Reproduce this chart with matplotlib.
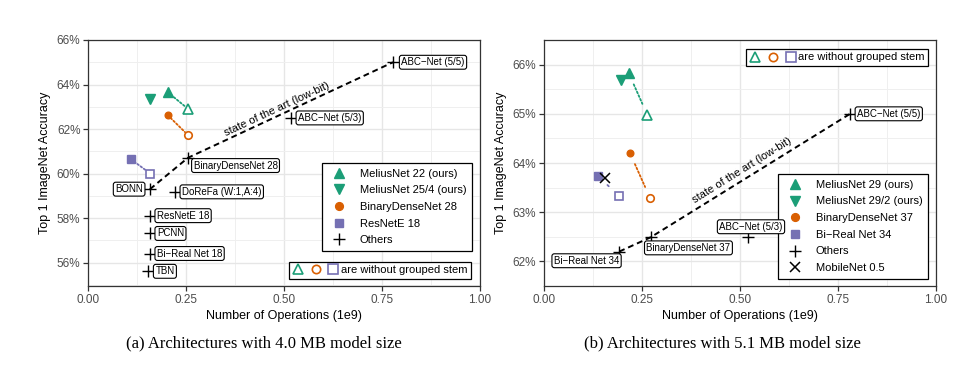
import numpy as np
import matplotlib.pyplot as plt
from matplotlib.lines import Line2D
from matplotlib.legend_handler import HandlerTuple
from matplotlib.ticker import FuncFormatter, MultipleLocator

plt.rcParams['font.family'] = ['Liberation Sans', 'DejaVu Sans']

GREEN, ORANGE, PURPLE = '#1b9e77', '#d95f02', '#7570b3'

###############################################################################
# Data, panel (a): 4.0 MB model size
# first value: with grouped stem (filled), second: without grouped stem (open)
a_labels = ['MeliusNet 22 (ours)', 'MeliusNet 25/4 (ours)', 'BinaryDenseNet 28', 'ResNetE 18']
a_ops = [[0.203, 0.255], [0.158], [0.203, 0.255], [0.109, 0.159]]
a_acc = [[63.66, 62.91], [63.35], [62.63, 61.73], [60.65, 60.00]]

a_other_names = ['ABC−Net (5/5)', 'ABC−Net (5/3)', 'BinaryDenseNet 28', 'BONN',
                 'DoReFa (W:1,A:4)', 'ResNetE 18', 'PCNN', 'Bi−Real Net 18', 'TBN']
a_other_ops = [0.778, 0.518, 0.255, 0.158, 0.222, 0.158, 0.158, 0.158, 0.154]
a_other_acc = [65.0, 62.5, 60.71, 59.3, 59.18, 58.11, 57.31, 56.41, 55.61]
a_sota = ['BONN', 'BinaryDenseNet 28', 'ABC−Net (5/5)']

# Data, panel (b): 5.1 MB model size
b_labels = ['MeliusNet 29 (ours)', 'MeliusNet 29/2 (ours)', 'BinaryDenseNet 37', 'Bi−Real Net 34']
b_ops = [[0.216, 0.264], [0.196], [0.219, 0.271], [0.139, 0.192]]
b_acc = [[65.83, 64.97], [65.68], [64.21, 63.28], [63.73, 63.32]]

b_other_names = ['ABC−Net (5/5)', 'ABC−Net (5/3)', 'BinaryDenseNet 37', 'Bi−Real Net 34']
b_other_ops = [0.781, 0.521, 0.272, 0.192]
b_other_acc = [65.0, 62.49, 62.49, 62.2]
b_sota = ['Bi−Real Net 34', 'BinaryDenseNet 37', 'ABC−Net (5/5)']

b_mobile_ops = [0.155]
b_mobile_acc = [63.70]

###############################################################################
# Styling

markers = ['^', 'v', 'o', 's']
msizes = [6.5, 6.5, 4.8, 5.2]
colors = [GREEN, GREEN, ORANGE, PURPLE]

# label offsets (points) and alignment for the "Others" annotations
a_label_pos = [(6, 0, 'left', 'center'), (5, 0, 'left', 'center'),
               (4, -2, 'left', 'top'), (-5, 0, 'right', 'center'),
               (5, 0, 'left', 'center'), (5, 0, 'left', 'center'),
               (5, 0, 'left', 'center'), (5, 0, 'left', 'center'),
               (5, 0, 'left', 'center')]
b_label_pos = [(5, 0, 'left', 'center'), (2, 4, 'center', 'bottom'),
               (-3, -4, 'left', 'top'), (0, -3, 'right', 'top')]

box = dict(boxstyle='round,pad=0.2,rounding_size=0.25', fc='white', ec='black', lw=0.8)


def style_axes(ax, ylim, ystep):
    ax.set_xlim(0, 1)
    ax.set_ylim(*ylim)
    ax.xaxis.set_major_locator(MultipleLocator(0.25))
    ax.xaxis.set_minor_locator(MultipleLocator(0.125))
    ax.yaxis.set_major_locator(MultipleLocator(ystep))
    ax.yaxis.set_minor_locator(MultipleLocator(ystep / 2))
    ax.xaxis.set_major_formatter(FuncFormatter(lambda v, p: f'{v:.2f}'))
    ax.yaxis.set_major_formatter(FuncFormatter(lambda v, p: f'{v:.0f}%'))
    ax.grid(which='major', color='#e6e6e6', lw=1.0, zorder=0)
    ax.grid(which='minor', color='#efefef', lw=0.7, zorder=0)
    ax.set_axisbelow(True)
    ax.tick_params(which='major', length=3.5, width=0.9, color='#333333',
                   labelsize=8.5, labelcolor='#4d4d4d', pad=2)
    ax.tick_params(which='minor', length=0)
    for s in ax.spines.values():
        s.set_color('#333333')
        s.set_linewidth(0.9)
    ax.set_xlabel('Number of Operations (1e9)', fontsize=9, labelpad=3)
    ax.set_ylabel('Top 1 ImageNet Accuracy', fontsize=9, labelpad=4)


def draw_panel(ax, labels, ops, acc, o_names, o_ops, o_acc, sota, label_pos, shrink):
    handles = []
    for lab, m, ms, c, xs, ys in zip(labels, markers, msizes, colors, ops, acc):
        if len(xs) > 1:
            ax.annotate('', xy=(xs[1], ys[1]), xytext=(xs[0], ys[0]),
                        arrowprops=dict(arrowstyle='-', color=c, lw=1.3,
                                        linestyle=(0, (1, 1.2)),
                                        shrinkA=shrink, shrinkB=shrink), zorder=2)
            ax.plot(xs[1], ys[1], marker=m, ms=ms + 0.6, mfc='white', mec=c, mew=1.2,
                    ls='none', zorder=4)
        ax.plot(xs[0], ys[0], marker=m, ms=ms, color=c, ls='none', zorder=4)
        handles.append(Line2D([], [], marker=m, ms=ms + 0.8, color=c, ls='none'))

    # state of the art line
    idx = [o_names.index(n) for n in sota]
    ax.plot([o_ops[i] for i in idx], [o_acc[i] for i in idx], color='black',
            lw=1.4, ls=(0, (3, 2)), zorder=3)

    ax.plot(o_ops, o_acc, marker='+', ms=8, mew=1.0, color='black', ls='none', zorder=5)
    for name, x, y, (dx, dy, ha, va) in zip(o_names, o_ops, o_acc, label_pos):
        ax.annotate(name, (x, y), xytext=(dx, dy), textcoords='offset points',
                    ha=ha, va=va, fontsize=7, bbox=box, zorder=6)
    handles.append(Line2D([], [], marker='+', ms=9, mew=1.0, color='black', ls='none'))
    return handles


def note_legend(ax, loc, anchor):
    opens = tuple(Line2D([], [], marker=m, ms=ms, mfc='white', mec=c, mew=1.2, ls='none')
                  for m, ms, c in zip(['^', 'o', 's'], [7, 6, 6.5], [GREEN, ORANGE, PURPLE]))
    leg = ax.legend([opens], ['are without grouped stem'], loc=loc, bbox_to_anchor=anchor,
                    handler_map={tuple: HandlerTuple(ndivide=None, pad=0.6)},
                    handlelength=4.2, handletextpad=0.2, fontsize=8, fancybox=False,
                    edgecolor='black', framealpha=1, borderpad=0.3, borderaxespad=0)
    leg.get_frame().set_linewidth(0.9)
    return leg


fig = plt.figure(figsize=(9.77, 3.69), dpi=100)
ax1 = fig.add_axes([0.0901, 0.2249, 0.4012, 0.6667])
ax2 = fig.add_axes([0.5568, 0.2249, 0.4012, 0.6667])

# ---- panel (a)
style_axes(ax1, (54.95, 66), 2)
h1 = draw_panel(ax1, a_labels, a_ops, a_acc, a_other_names, a_other_ops, a_other_acc,
                a_sota, a_label_pos, shrink=3)
ax1.text(0.481, 62.87, 'state of the art (low-bit)', rotation=25, fontsize=8,
         ha='center', va='center')
leg1 = ax1.legend(h1, a_labels + ['Others'], loc='upper right', bbox_to_anchor=(0.98, 0.5),
                  fontsize=8, fancybox=False, edgecolor='black', framealpha=1,
                  labelspacing=0.6, handletextpad=0.9, borderaxespad=0, borderpad=0.5)
leg1.get_frame().set_linewidth(0.9)
ax1.add_artist(leg1)
note_legend(ax1, 'lower right', (0.977, 0.03))

# ---- panel (b)
style_axes(ax2, (61.5, 66.5), 1)
h2 = draw_panel(ax2, b_labels, b_ops, b_acc, b_other_names, b_other_ops, b_other_acc,
                b_sota, b_label_pos, shrink=9)
ax2.plot(b_mobile_ops, b_mobile_acc, marker='x', ms=7, mew=1.1, color='black',
         ls='none', zorder=5)
h2.append(Line2D([], [], marker='x', ms=7, mew=1.1, color='black', ls='none'))
ax2.text(0.504, 63.85, 'state of the art (low-bit)', rotation=32, fontsize=8,
         ha='center', va='center')
leg2 = ax2.legend(h2, b_labels + ['Others', 'MobileNet 0.5'], loc='lower right',
                  bbox_to_anchor=(0.98, 0.03), fontsize=8, fancybox=False,
                  edgecolor='black', framealpha=1, labelspacing=0.6,
                  handletextpad=0.9, borderaxespad=0, borderpad=0.5)
leg2.get_frame().set_linewidth(0.9)
ax2.add_artist(leg2)
note_legend(ax2, 'upper right', (0.98, 0.963))

# ---- captions
fig.text(0.270, 0.07, '(a) Architectures with 4.0 MB model size', fontsize=12,
         family=['Liberation Serif'], ha='center', va='center')
fig.text(0.739, 0.07, '(b) Architectures with 5.1 MB model size', fontsize=12,
         family=['Liberation Serif'], ha='center', va='center')

fig.savefig('out.png', dpi=100)
